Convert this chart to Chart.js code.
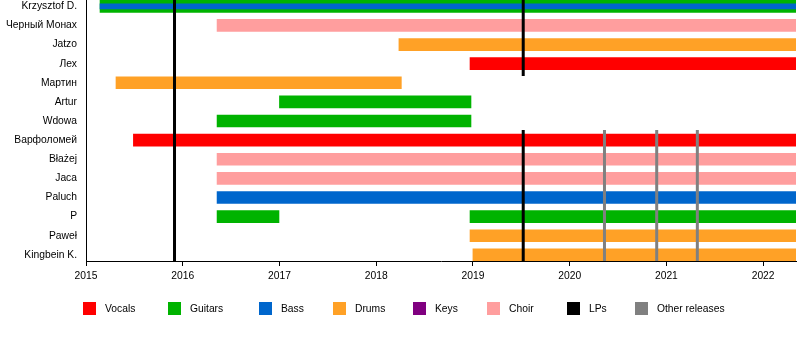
<!DOCTYPE html>
<html>
<head>
<meta charset="utf-8">
<script src="https://cdn.jsdelivr.net/npm/chart.js@4/dist/chart.umd.min.js"></script>
<style>
  body { margin: 0; background: #fff; }
  canvas { display: block; }
</style>
</head>
<body>
<canvas id="timeline" width="800" height="340"></canvas>
<script>
const members = ['Krzysztof D.', 'Черный Монах', 'Jatzo', 'Лех', 'Мартин', 'Artur', 'Wdowa',
    'Варфоломей', 'Błażej', 'Jaca', 'Paluch', 'P', 'Paweł', 'Kingbein K.'];
const years = [2015, 2016, 2017, 2018, 2019, 2020, 2021, 2022];
const start = 2015;
const now = 2022.34;

// [member, from, till]
const vocals = [['Лех', 2018.97, now], ['Варфоломей', 2015.49, now]];
const guitars = [['Krzysztof D.', 2015.145, now], ['Artur', 2017.0, 2018.98], ['Wdowa', 2016.355, 2018.98],
    ['P', 2016.355, 2016.995], ['P', 2018.97, now]];
const bass = [['Paluch', 2016.355, now]];
const bassSecondary = [['Krzysztof D.', 2015.145, now]];
const drums = [['Jatzo', 2018.235, now], ['Мартин', 2015.31, 2018.26], ['Paweł', 2018.97, now],
    ['Kingbein K.', 2019.0, now]];
const keys = [];
const choir = [['Черный Монах', 2016.355, now], ['Błażej', 2016.355, now], ['Jaca', 2016.355, now]];

// release lines: [date, from row, to row]
const lps = [[2015.915, -0.33, 13.32], [2019.52, -0.33, 3.65], [2019.52, 6.47, 13.32]];
const otherReleases = [[2020.36, 6.47, 13.32], [2020.9, 6.47, 13.32], [2021.32, 6.47, 13.32]];

const legendLabels = ['Vocals', 'Guitars', 'Bass', 'Drums', 'Keys', 'Choir', 'LPs', 'Other releases'];
const legendColors = ['#ff0000', '#00b300', '#0066cc', '#ffa126', '#800080', '#ff9e9e', '#000000', '#808080'];

const fontFamily = '"Liberation Sans", Arial, sans-serif';
Chart.defaults.font.family = fontFamily;
Chart.defaults.font.size = 10.3;
Chart.defaults.color = '#000';

function spans(list) {
    return list.map(([name, from, till]) => ({ y: members.indexOf(name), x: [from, till] }));
}

function barSet(label, list, color, thickness, order) {
    return {
        type: 'bar',
        label: label,
        data: spans(list),
        backgroundColor: color,
        borderWidth: 0,
        borderSkipped: false,
        barThickness: thickness,
        grouped: false,
        order: order
    };
}

function lineSet(label, [date, from, till], color) {
    return {
        type: 'line',
        label: label,
        data: [{ x: date, y: from }, { x: date, y: till }],
        borderColor: color,
        borderWidth: 3,
        pointRadius: 0,
        fill: false,
        order: 0
    };
}

const datasets = [
    ...lps.map(l => lineSet('LPs', l, legendColors[6])),
    ...otherReleases.map(l => lineSet('Other releases', l, legendColors[7])),
    barSet('Bass', bassSecondary, legendColors[2], 5, 1),
    barSet('Vocals', vocals, legendColors[0], 12, 2),
    barSet('Guitars', guitars, legendColors[1], 12, 2),
    barSet('Bass', bass, legendColors[2], 12, 2),
    barSet('Drums', drums, legendColors[3], 12, 2),
    barSet('Keys', keys, legendColors[4], 12, 2),
    barSet('Choir', choir, legendColors[5], 12, 2)
];

// legend row under the axis, fixed columns
const legendPlugin = {
    id: 'timelineLegend',
    afterDraw(chart) {
        const ctx = chart.ctx;
        const xs = [83, 168, 259, 333, 413, 487, 567, 635];
        ctx.save();
        ctx.font = '10.3px ' + fontFamily;
        ctx.textBaseline = 'middle';
        legendLabels.forEach((label, i) => {
            ctx.fillStyle = legendColors[i];
            ctx.fillRect(xs[i], 302, 13, 13);
            ctx.fillStyle = '#000';
            ctx.fillText(label, xs[i] + 22, 309);
        });
        ctx.restore();
    }
};

new Chart(document.getElementById('timeline'), {
    type: 'bar',
    data: { datasets },
    options: {
        indexAxis: 'y',
        responsive: false,
        animation: false,
        layout: { padding: { top: 0, right: 4, bottom: 0, left: 0 } },
        plugins: {
            legend: { display: false },
            tooltip: { enabled: false }
        },
        scales: {
            x: {
                type: 'linear',
                offset: false,
                min: start,
                max: now,
                afterBuildTicks: (scale) => { scale.ticks = years.map(v => ({ value: v })); },
                afterFit: (scale) => {
                    scale.height = 79;
                    scale.paddingLeft = 0;
                    scale.paddingRight = 0;
                },
                ticks: { padding: 4, maxRotation: 0, autoSkip: false, callback: v => String(v) },
                grid: { drawOnChartArea: false, drawTicks: true, tickLength: 5, color: '#000', offset: false },
                border: { color: '#000', width: 1 }
            },
            y: {
                type: 'linear',
                offset: false,
                reverse: true,
                min: -0.33,
                max: 13.32,
                afterBuildTicks: (scale) => { scale.ticks = members.map((_, i) => ({ value: i })); },
                afterFit: (scale) => {
                    scale.width = 86;
                    scale.paddingTop = 0;
                    scale.paddingBottom = 0;
                },
                ticks: { padding: 9, autoSkip: false, callback: v => members[v] },
                grid: { display: false, drawTicks: false, offset: false },
                border: { display: true, color: '#000', width: 1 }
            }
        }
    },
    plugins: [legendPlugin]
});
</script>
</body>
</html>
